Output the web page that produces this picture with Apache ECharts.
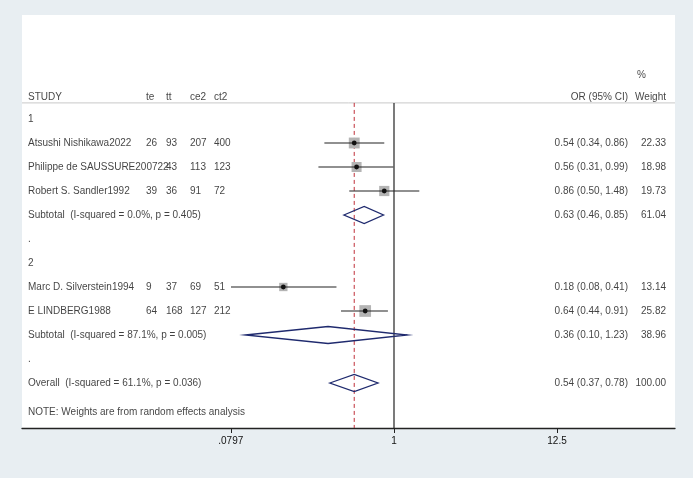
<!DOCTYPE html>
<html>
<head>
<meta charset="utf-8">
<script src="https://cdn.jsdelivr.net/npm/echarts@6/dist/echarts.min.js"></script>
<style>
  html,body{margin:0;padding:0;background:#e8eef2;}
  #main{width:693px;height:478px;}
</style>
</head>
<body>
<div id="main"></div>
<script>
// rows (top to bottom)
var labels = ['1','Atsushi Nishikawa2022','Philippe de SAUSSURE200722','Robert S. Sandler1992',
  'Subtotal  (I-squared = 0.0%, p = 0.405)','.','2','Marc D. Silverstein1994','E LINDBERG1988',
  'Subtotal  (I-squared = 87.1%, p = 0.005)','.','Overall  (I-squared = 61.1%, p = 0.036)',
  'NOTE: Weights are from random effects analysis'];
var kinds = ['head','study','study','study','sub','blank','head','study','study','sub','blank','sub','note'];
var te  = ['', 26, '', 39, '', '', '', 9, 64];
var tt  = ['', 93, 43, 36, '', '', '', 37, 168];
var ce2 = ['', 207, 113, 91, '', '', '', 69, 127];
var ct2 = ['', 400, 123, 72, '', '', '', 51, 212];
var orv = [null, 0.54, 0.56, 0.86, 0.63, null, null, 0.18, 0.64, 0.36, null, 0.54];
var lo  = [null, 0.34, 0.31, 0.50, 0.46, null, null, 0.08, 0.44, 0.10, null, 0.37];
var hi  = [null, 0.86, 0.99, 1.48, 0.85, null, null, 0.41, 0.91, 1.23, null, 0.78];
var wt  = [null, 22.33, 18.98, 19.73, 61.04, null, null, 13.14, 25.82, 38.96, null, 100.00];
var tickVals = [0.0797, 1, 12.5];
var tickLabels = ['.0797', '1', '12.5'];
var pooled = 0.54;

// pixel columns for the text table
var L = Math.log10;
var pxPerDec = 148.6, oneX = 394;
function colX(px){ return (px - oneX) / pxPerDec; }
var colStudy = colX(28), colTe = colX(146), colTt = colX(166), colCe = colX(190), colCt = colX(214);
var colOr = colX(628), colW = colX(666);

var leftText = [], rightText = [];
leftText.push({value:[colStudy,-0.92], t:'STUDY'});
leftText.push({value:[colTe,-0.92], t:'te'});
leftText.push({value:[colTt,-0.92], t:'tt'});
leftText.push({value:[colCe,-0.92], t:'ce2'});
leftText.push({value:[colCt,-0.92], t:'ct2'});
leftText.push({value:[colX(637),-1.83], t:'%'});
rightText.push({value:[colOr,-0.92], t:'OR (95% CI)'});
rightText.push({value:[colW,-0.92], t:'Weight'});
labels.forEach(function(s,i){
  var y = kinds[i]==='note' ? 12.2 : i;
  leftText.push({value:[colStudy,y], t:s});
  if (kinds[i]==='study') {
    if (te[i]!=='') leftText.push({value:[colTe,i], t:String(te[i])});
    leftText.push({value:[colTt,i], t:String(tt[i])});
    leftText.push({value:[colCe,i], t:String(ce2[i])});
    leftText.push({value:[colCt,i], t:String(ct2[i])});
  }
  if (orv[i] != null) {
    rightText.push({value:[colOr,i], t:orv[i].toFixed(2)+' ('+lo[i].toFixed(2)+', '+hi[i].toFixed(2)+')'});
    rightText.push({value:[colW,i], t:wt[i].toFixed(2)});
  }
});

var marks = [];
orv.forEach(function(v,i){ if (v!=null) marks.push([L(v), i, L(lo[i]), L(hi[i]), wt[i], kinds[i]==='sub'?1:0]); });

var chart = echarts.init(document.getElementById('main'));
var txt = {fontFamily:'Liberation Sans, Arial', fontSize:10, color:'#111'};
chart.setOption({
  animation:false,
  grid:{left:22, right:18, top:15, bottom:50, show:true, backgroundColor:'#fff', borderWidth:0},
  xAxis:{type:'value', min:colX(22), max:colX(675),
    axisLine:{show:true, onZero:false, lineStyle:{color:'#222', width:1.3}},
    splitLine:{show:false},
    axisTick:{show:true, length:5, customValues:tickVals.map(L), lineStyle:{color:'#222'}},
    axisLabel:{customValues:tickVals.map(L), fontFamily:'Liberation Sans, Arial', fontSize:10, color:'#111', margin:8,
      formatter:function(v){ var k=tickVals.map(L).findIndex(function(t){return Math.abs(t-v)<1e-6;}); return k>=0?tickLabels[k]:''; }}},
  yAxis:{type:'value', inverse:true, min:-4.333, max:12.875, show:false},
  series:[
    {type:'custom', silent:true, data:[[0]], renderItem:function(p,api){
      var a=api.coord([colX(22),-0.67]), b=api.coord([colX(675),-0.67]);
      var t1=api.coord([0,-0.67]), t2=api.coord([0,12.875]);
      var r1=api.coord([L(pooled),-0.67]);
      return {type:'group', children:[
        {type:'line', shape:{x1:a[0],y1:a[1],x2:b[0],y2:b[1]}, style:{stroke:'#c8c8c8', lineWidth:1}},
        {type:'line', shape:{x1:t1[0],y1:t1[1],x2:t2[0],y2:t2[1]}, style:{stroke:'#222', lineWidth:1.2}},
        {type:'line', shape:{x1:r1[0],y1:r1[1],x2:r1[0],y2:t2[1]}, style:{stroke:'#c0303a', lineWidth:1, lineDash:[4,3]}}
      ]};
    }},
    {type:'custom', silent:true, data:marks, renderItem:function(p,api){
      var c=api.coord([api.value(0),api.value(1)]);
      var l=api.coord([api.value(2),api.value(1)]), h=api.coord([api.value(3),api.value(1)]);
      if (api.value(5)===1) {
        return {type:'polygon', shape:{points:[[l[0],c[1]],[c[0],c[1]-8.5],[h[0],c[1]],[c[0],c[1]+8.5]]},
          style:{fill:'none', stroke:'#1f2a6e', lineWidth:1.3}};
      }
      var s=Math.sqrt(api.value(4))*2.3;
      return {type:'group', children:[
        {type:'rect', shape:{x:c[0]-s/2,y:c[1]-s/2,width:s,height:s}, style:{fill:'#b4b4b4'}},
        {type:'line', shape:{x1:l[0],y1:c[1],x2:h[0],y2:c[1]}, style:{stroke:'#222', lineWidth:1.2}},
        {type:'circle', shape:{cx:c[0],cy:c[1],r:2.4}, style:{fill:'#111'}}
      ]};
    }},
    {type:'scatter', symbolSize:0, silent:true, data:leftText,
      label:Object.assign({show:true, position:[0,0], align:'left', verticalAlign:'middle', formatter:function(p){return p.data.t;}}, txt)},
    {type:'scatter', symbolSize:0, silent:true, data:rightText,
      label:Object.assign({show:true, position:[0,0], align:'right', verticalAlign:'middle', formatter:function(p){return p.data.t;}}, txt)}
  ]
});
</script>
</body>
</html>
